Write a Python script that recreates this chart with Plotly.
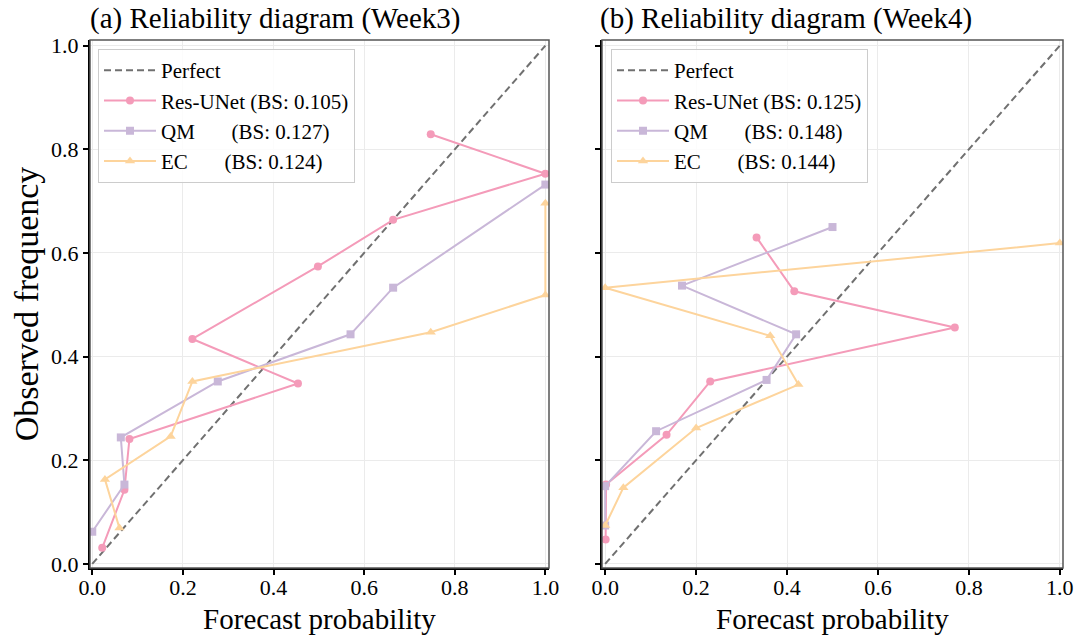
import plotly.graph_objects as go
from plotly.subplots import make_subplots

# ---------------- data ----------------
perfect = [0.0, 1.0]

# Week 3
w3_resunet_x = [0.022, 0.071, 0.082, 0.454, 0.221, 0.498, 0.664, 1.000, 0.747]
w3_resunet_y = [0.031, 0.143, 0.241, 0.348, 0.434, 0.574, 0.664, 0.753, 0.829]
w3_qm_x = [0.000, 0.071, 0.063, 0.277, 0.570, 0.664, 1.000]
w3_qm_y = [0.062, 0.153, 0.244, 0.352, 0.443, 0.533, 0.732]
w3_ec_x = [0.060, 0.028, 0.173, 0.221, 0.747, 1.000, 1.000]
w3_ec_y = [0.069, 0.163, 0.246, 0.352, 0.447, 0.519, 0.696]

# Week 4
w4_resunet_x = [0.001, 0.002, 0.135, 0.231, 0.769, 0.416, 0.333]
w4_resunet_y = [0.047, 0.153, 0.249, 0.352, 0.456, 0.526, 0.630]
w4_qm_x = [0.000, 0.000, 0.112, 0.355, 0.420, 0.169, 0.500]
w4_qm_y = [0.074, 0.150, 0.256, 0.355, 0.443, 0.537, 0.650]
w4_ec_x = [0.000, 0.040, 0.200, 0.425, 0.363, 0.000, 1.000]
w4_ec_y = [0.074, 0.147, 0.262, 0.346, 0.440, 0.533, 0.619]

sp = "\u00a0"
labels_w3 = ["Perfect", "Res-UNet (BS: 0.105)", "QM" + sp * 7 + "(BS: 0.127)", "EC" + sp * 7 + "(BS: 0.124)"]
labels_w4 = ["Perfect", "Res-UNet (BS: 0.125)", "QM" + sp * 7 + "(BS: 0.148)", "EC" + sp * 7 + "(BS: 0.144)"]
titles = ["(a) Reliability diagram (Week3)", "(b) Reliability diagram (Week4)"]
tick_vals = [0.0, 0.2, 0.4, 0.6, 0.8, 1.0]
tick_text = ["0.0", "0.2", "0.4", "0.6", "0.8", "1.0"]

# ---------------- styles ----------------
FONT = "Liberation Serif"
C_PINK = "#F49BB9"
C_PURP = "#C9B7D8"
C_ORNG = "#FDD49C"
C_GRAY = "#707070"
W, H = 1077, 638

fig = make_subplots(rows=1, cols=2)

def add_panel(col, lab, legend, series):
    fig.add_trace(go.Scatter(x=perfect, y=perfect, mode="lines", name=lab[0],
                             line=dict(color=C_GRAY, width=2, dash="7px,4px"),
                             legend=legend, hoverinfo="skip"), row=1, col=col)
    specs = [(C_PINK, "circle", 8), (C_PURP, "square", 8), (C_ORNG, "triangle-up", 9)]
    for (xs, ys), (c, sym, sz), name in zip(series, specs, lab[1:]):
        fig.add_trace(go.Scatter(x=xs, y=ys, mode="lines+markers", name=name,
                                 line=dict(color=c, width=2),
                                 marker=dict(color=c, symbol=sym, size=sz),
                                 legend=legend), row=1, col=col)

add_panel(1, labels_w3, "legend", [(w3_resunet_x, w3_resunet_y), (w3_qm_x, w3_qm_y), (w3_ec_x, w3_ec_y)])
add_panel(2, labels_w4, "legend2", [(w4_resunet_x, w4_resunet_y), (w4_qm_x, w4_qm_y), (w4_ec_x, w4_ec_y)])

top_px, bot_px = 40, 568
ydom = [1 - bot_px / H, 1 - top_px / H]
xdom1 = [90 / W, 549 / W]
xdom2 = [602 / W, 1063 / W]

axis_common = dict(showgrid=True, gridcolor="#ebebeb", gridwidth=1, zeroline=False,
                   showline=True, linecolor="black", linewidth=2, mirror=False,
                   ticks="outside", ticklen=5, tickwidth=1.5, tickcolor="black",
                   tickvals=tick_vals, ticktext=tick_text, automargin=False,
                   tickfont=dict(family=FONT, size=22, color="black"))

fig.update_xaxes(**axis_common, ticklabelstandoff=-6)
fig.update_yaxes(**axis_common)
xtitle = dict(text="Forecast probability", font=dict(family=FONT, size=29, color="black"), standoff=9)
fig.update_xaxes(domain=xdom1, range=[-0.005, 1.008], row=1, col=1, title=xtitle)
fig.update_xaxes(domain=xdom2, range=[-0.007, 1.007], row=1, col=2, title=xtitle)
fig.update_yaxes(domain=ydom, range=[-0.008, 1.011], row=1, col=1,
                 title=dict(text="Observed frequency", font=dict(family=FONT, size=34, color="black"), standoff=2))
fig.update_yaxes(domain=ydom, range=[-0.008, 1.011], row=1, col=2, showticklabels=False)

# gray frame (top/right spines)
for xr, yr in [("x domain", "y domain"), ("x2 domain", "y2 domain")]:
    fig.add_shape(type="rect", xref=xr, yref=yr, x0=0, x1=1, y0=0, y1=1,
                  line=dict(color="#555555", width=1.5), layer="above")

for i, t in enumerate(titles):
    xpx = 88 if i == 0 else 598
    fig.add_annotation(text=t, x=xpx / W, y=1 - 19 / H, xref="paper", yref="paper",
                       xanchor="left", yanchor="middle", showarrow=False,
                       font=dict(family=FONT, size=29, color="black"))

legend_style = dict(font=dict(family=FONT, size=21, color="black"),
                    bgcolor="rgba(255,255,255,0.85)", bordercolor="#cccccc", borderwidth=1,
                    itemwidth=52,
                    xanchor="left", yanchor="top", yref="paper", xref="paper")
fig.update_layout(
    width=W, height=H, margin=dict(l=0, r=0, t=0, b=0, autoexpand=False),
    plot_bgcolor="white", paper_bgcolor="white",
    legend=dict(x=98 / W, y=1 - 49 / H, **legend_style),
    legend2=dict(x=611 / W, y=1 - 49 / H, **legend_style),
    showlegend=True,
)

fig.write_html("out.html")
